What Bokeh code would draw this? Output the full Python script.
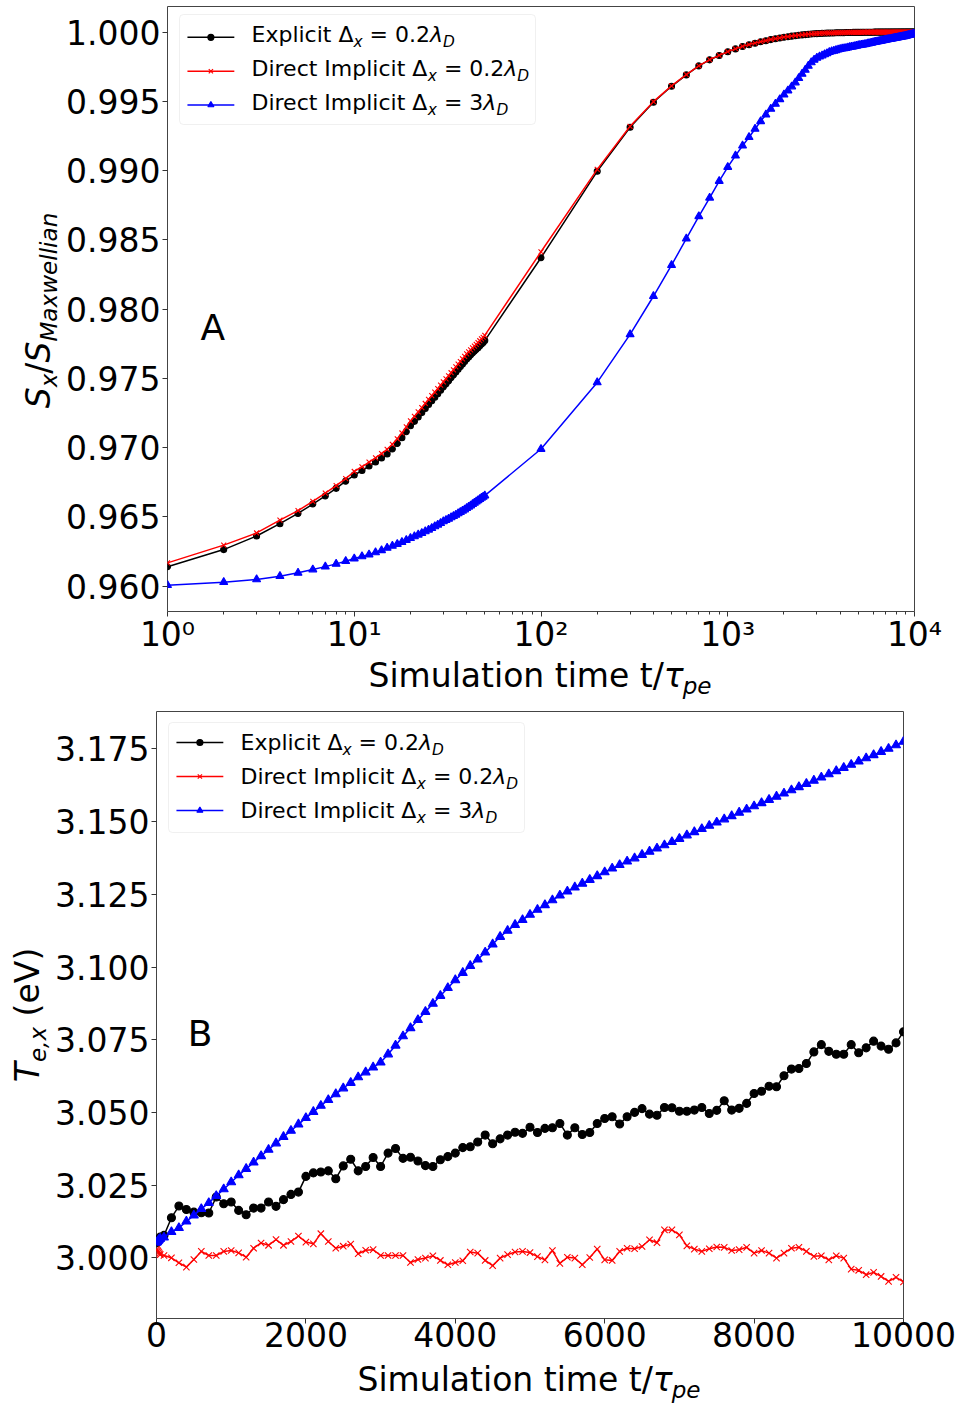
import math
from bokeh.plotting import figure
from bokeh.layouts import column, row
from bokeh.models import (Range1d, FixedTicker, NumeralTickFormatter, CustomJSTickFormatter,
                          Label, BoxAnnotation, LinearScale)
from bokeh.embed import file_html
from bokeh.resources import INLINE

# ---------------- data : panel A (S_x / S_Maxwellian vs time, log x) ----------------
T_A = list(range(1, 51)) + list(range(100, 10001, 100))

EXPLICIT_A = [
    0.96140, 0.96264, 0.96362, 0.96451, 0.96525, 0.96593, 0.96651, 0.96706, 0.96758, 0.96802,
    0.96835, 0.96867, 0.96897, 0.96926, 0.96955, 0.96990, 0.97030, 0.97072, 0.97115, 0.97158,
    0.97190, 0.97222, 0.97253, 0.97283, 0.97312, 0.97338, 0.97364, 0.97389, 0.97414, 0.97438,
    0.97460, 0.97482, 0.97504, 0.97525, 0.97546, 0.97566, 0.97585, 0.97604, 0.97622, 0.97640,
    0.97655, 0.97669, 0.97683, 0.97696, 0.97709, 0.97722, 0.97735, 0.97748, 0.97760, 0.97773,
    0.98371, 0.98995, 0.99313, 0.99494, 0.99609, 0.99691, 0.99756, 0.99800, 0.99831, 0.99858,
    0.99879, 0.99896, 0.99909, 0.99920, 0.99930, 0.99938, 0.99946, 0.99952, 0.99958, 0.99963,
    0.99967, 0.99971, 0.99974, 0.99977, 0.99980, 0.99982, 0.99984, 0.99986, 0.99988, 0.99989,
    0.99990, 0.99991, 0.99992, 0.99993, 0.99993, 0.99994, 0.99994, 0.99995, 0.99995, 0.99996,
    0.99996, 0.99996, 0.99997, 0.99997, 0.99997, 0.99997, 0.99998, 0.99998, 0.99998, 0.99998,
    0.99998, 0.99998, 0.99999, 0.99999, 0.99999, 0.99999, 0.99999, 0.99999, 0.99999, 0.99999,
    1.00000, 1.00000, 1.00000, 1.00000, 1.00000, 1.00000, 1.00000, 1.00000, 1.00000, 1.00000,
    1.00000, 1.00000, 1.00000, 1.00000, 1.00000, 1.00000, 1.00000, 1.00000, 1.00000, 1.00000,
    1.00000, 1.00000, 1.00000, 1.00000, 1.00000, 1.00000, 1.00000, 1.00000, 1.00000, 1.00000,
    1.00000, 1.00000, 1.00000, 1.00000, 1.00000, 1.00000, 1.00000, 1.00000, 1.00000, 1.00000,
]

IMPLICIT_FINE_A = [
    0.96168, 0.96296, 0.96384, 0.96477, 0.96545, 0.96612, 0.96672, 0.96726, 0.96776, 0.96828,
    0.96862, 0.96895, 0.96926, 0.96957, 0.96988, 0.97024, 0.97064, 0.97106, 0.97150, 0.97193,
    0.97226, 0.97258, 0.97289, 0.97319, 0.97348, 0.97375, 0.97401, 0.97426, 0.97451, 0.97475,
    0.97497, 0.97519, 0.97541, 0.97562, 0.97583, 0.97603, 0.97622, 0.97641, 0.97659, 0.97677,
    0.97692, 0.97706, 0.97720, 0.97733, 0.97746, 0.97759, 0.97772, 0.97785, 0.97797, 0.97810,
    0.98414, 0.99009, 0.99320, 0.99498, 0.99612, 0.99693, 0.99757, 0.99801, 0.99832, 0.99859,
    0.99880, 0.99897, 0.99910, 0.99921, 0.99931, 0.99939, 0.99947, 0.99953, 0.99959, 0.99964,
    0.99968, 0.99972, 0.99975, 0.99978, 0.99981, 0.99983, 0.99985, 0.99987, 0.99989, 0.99990,
    0.99991, 0.99992, 0.99993, 0.99994, 0.99994, 0.99995, 0.99995, 0.99996, 0.99996, 0.99997,
    0.99997, 0.99997, 0.99998, 0.99998, 0.99998, 0.99998, 0.99999, 0.99999, 0.99999, 0.99999,
    0.99999, 0.99999, 1.00000, 1.00000, 1.00000, 1.00000, 1.00000, 1.00000, 1.00000, 1.00000,
    1.00000, 1.00000, 1.00000, 1.00000, 1.00000, 1.00000, 1.00000, 1.00000, 1.00000, 1.00000,
    1.00000, 1.00000, 1.00000, 1.00000, 1.00000, 1.00000, 1.00000, 1.00000, 1.00000, 1.00000,
    1.00000, 1.00000, 1.00000, 1.00000, 1.00000, 1.00000, 1.00000, 1.00000, 1.00000, 1.00000,
    1.00000, 1.00000, 1.00000, 1.00000, 1.00000, 1.00000, 1.00000, 1.00000, 1.00000, 1.00000,
]

IMPLICIT_COARSE_A = [
    0.96007, 0.96029, 0.96048, 0.96072, 0.96096, 0.96120, 0.96141, 0.96161, 0.96180, 0.96199,
    0.96214, 0.96228, 0.96243, 0.96259, 0.96276, 0.96290, 0.96304, 0.96318, 0.96333, 0.96347,
    0.96359, 0.96371, 0.96383, 0.96395, 0.96407, 0.96419, 0.96431, 0.96443, 0.96455, 0.96467,
    0.96477, 0.96486, 0.96496, 0.96505, 0.96515, 0.96525, 0.96534, 0.96544, 0.96553, 0.96563,
    0.96573, 0.96582, 0.96592, 0.96601, 0.96611, 0.96620, 0.96628, 0.96637, 0.96645, 0.96654,
    0.96990, 0.97471, 0.97818, 0.98093, 0.98317, 0.98509, 0.98670, 0.98804, 0.98925, 0.99026,
    0.99108, 0.99180, 0.99241, 0.99301, 0.99356, 0.99404, 0.99445, 0.99481, 0.99515, 0.99549,
    0.99578, 0.99607, 0.99636, 0.99667, 0.99698, 0.99727, 0.99756, 0.99781, 0.99800, 0.99814,
    0.99823, 0.99831, 0.99839, 0.99847, 0.99855, 0.99860, 0.99864, 0.99869, 0.99873, 0.99877,
    0.99880, 0.99883, 0.99885, 0.99888, 0.99891, 0.99893, 0.99896, 0.99898, 0.99901, 0.99904,
    0.99906, 0.99908, 0.99910, 0.99912, 0.99914, 0.99916, 0.99918, 0.99920, 0.99923, 0.99925,
    0.99927, 0.99929, 0.99931, 0.99933, 0.99935, 0.99937, 0.99939, 0.99940, 0.99942, 0.99944,
    0.99946, 0.99947, 0.99949, 0.99950, 0.99952, 0.99953, 0.99955, 0.99956, 0.99958, 0.99959,
    0.99960, 0.99962, 0.99963, 0.99965, 0.99966, 0.99967, 0.99969, 0.99970, 0.99972, 0.99973,
    0.99975, 0.99976, 0.99978, 0.99979, 0.99981, 0.99982, 0.99984, 0.99985, 0.99987, 0.99988,
]

# ---------------- data : panel B (T_e,x in eV vs time, linear x) ----------------
T_B = [1, 10, 20, 30, 40, 50] + list(range(100, 10001, 100))

EXPLICIT_B = [
    3.0052, 3.0056, 3.0060, 3.0064, 3.0068, 3.0071,
    3.0077, 3.0138, 3.0178, 3.0166, 3.0157, 3.0155, 3.0154, 3.0209, 3.0186, 3.0192,
    3.0163, 3.0148, 3.0171, 3.0171, 3.0192, 3.0177, 3.0200, 3.0218, 3.0226, 3.0280,
    3.0292, 3.0295, 3.0299, 3.0272, 3.0316, 3.0339, 3.0299, 3.0314, 3.0345, 3.0314,
    3.0360, 3.0376, 3.0342, 3.0346, 3.0333, 3.0317, 3.0314, 3.0337, 3.0348, 3.0360,
    3.0379, 3.0382, 3.0398, 3.0422, 3.0392, 3.0409, 3.0422, 3.0432, 3.0428, 3.0449,
    3.0431, 3.0445, 3.0447, 3.0462, 3.0422, 3.0447, 3.0424, 3.0431, 3.0462, 3.0479,
    3.0485, 3.0460, 3.0485, 3.0500, 3.0513, 3.0494, 3.0490, 3.0517, 3.0516, 3.0504,
    3.0504, 3.0508, 3.0517, 3.0496, 3.0507, 3.0540, 3.0508, 3.0514, 3.0531, 3.0565,
    3.0573, 3.0590, 3.0588, 3.0626, 3.0649, 3.0651, 3.0668, 3.0708, 3.0733, 3.0710,
    3.0700, 3.0700, 3.0733, 3.0705, 3.0722, 3.0745, 3.0728, 3.0717, 3.0739, 3.0777,
]

IMPLICIT_FINE_B = [
    3.0030, 3.0026, 3.0022, 3.0018, 3.0014, 3.0011,
    3.0008, 3.0000, 2.9983, 2.9968, 2.9994, 3.0022, 3.0008, 3.0008, 3.0022, 3.0025,
    3.0017, 3.0002, 3.0033, 3.0051, 3.0043, 3.0063, 3.0043, 3.0056, 3.0075, 3.0054,
    3.0048, 3.0083, 3.0056, 3.0033, 3.0040, 3.0047, 3.0014, 3.0026, 3.0028, 3.0008,
    3.0008, 3.0008, 3.0008, 2.9984, 2.9994, 2.9999, 3.0007, 2.9991, 2.9976, 2.9984,
    2.9990, 3.0020, 3.0016, 2.9991, 2.9973, 2.9999, 3.0011, 3.0020, 3.0022, 3.0018,
    3.0004, 2.9993, 3.0025, 2.9981, 3.0002, 2.9999, 2.9976, 3.0001, 3.0030, 2.9993,
    2.9991, 3.0022, 3.0033, 3.0031, 3.0039, 3.0062, 3.0052, 3.0096, 3.0096, 3.0079,
    3.0041, 3.0030, 3.0022, 3.0031, 3.0037, 3.0036, 3.0025, 3.0028, 3.0036, 3.0016,
    3.0025, 3.0016, 2.9999, 3.0016, 3.0033, 3.0036, 3.0022, 3.0005, 3.0007, 2.9993,
    3.0007, 2.9999, 2.9961, 2.9957, 2.9942, 2.9950, 2.9936, 2.9919, 2.9933, 2.9917,
]

IMPLICIT_COARSE_B = [
    3.0052, 3.0055, 3.0058, 3.0061, 3.0064, 3.0066,
    3.0070, 3.0089, 3.0103, 3.0125, 3.0146, 3.0168, 3.0189, 3.0213, 3.0236, 3.0260,
    3.0284, 3.0306, 3.0328, 3.0350, 3.0372, 3.0394, 3.0416, 3.0437, 3.0459, 3.0481,
    3.0502, 3.0523, 3.0543, 3.0563, 3.0583, 3.0602, 3.0621, 3.0638, 3.0655, 3.0672,
    3.0700, 3.0730, 3.0762, 3.0790, 3.0818, 3.0846, 3.0874, 3.0901, 3.0928, 3.0955,
    3.0980, 3.1004, 3.1026, 3.1050, 3.1078, 3.1104, 3.1125, 3.1145, 3.1162, 3.1180,
    3.1197, 3.1213, 3.1230, 3.1246, 3.1260, 3.1274, 3.1287, 3.1300, 3.1313, 3.1326,
    3.1339, 3.1351, 3.1363, 3.1374, 3.1386, 3.1397, 3.1408, 3.1419, 3.1430, 3.1441,
    3.1453, 3.1464, 3.1475, 3.1486, 3.1497, 3.1508, 3.1519, 3.1531, 3.1542, 3.1553,
    3.1564, 3.1575, 3.1586, 3.1597, 3.1608, 3.1619, 3.1630, 3.1641, 3.1652, 3.1663,
    3.1674, 3.1685, 3.1696, 3.1707, 3.1718, 3.1729, 3.1740, 3.1751, 3.1763, 3.1775,
]

A_YTICKS = [0.960, 0.965, 0.970, 0.975, 0.980, 0.985, 0.990, 0.995, 1.000]
A_XTICKS = [1, 10, 100, 1000, 10000]
A_XMINOR = [m * d for d in (1, 10, 100, 1000) for m in range(2, 10)]
B_YTICKS = [3.000, 3.025, 3.050, 3.075, 3.100, 3.125, 3.150, 3.175]
B_XTICKS = [0, 2000, 4000, 6000, 8000, 10000]

for arr in (EXPLICIT_A, IMPLICIT_FINE_A, IMPLICIT_COARSE_A):
    assert len(arr) == len(T_A), len(arr)
for arr in (EXPLICIT_B, IMPLICIT_FINE_B, IMPLICIT_COARSE_B):
    assert len(arr) == len(T_B), len(arr)

# ---------------- text helpers ----------------
FONT = "DejaVu Sans"
ADV = {' ': 651, '(': 799, ')': 799, ',': 651, '.': 651, '/': 690, '=': 1716,
       '0': 1303, '1': 1303, '2': 1303, '3': 1303,
       'A': 1401, 'B': 1405, 'D': 1577, 'E': 1294, 'I': 604, 'M': 1767, 'S': 1300,
       'T': 1251, 'V': 1401, 'a': 1255, 'c': 1126, 'e': 1260, 'i': 569, 'l': 569,
       'm': 1995, 'n': 1298, 'o': 1253, 'p': 1300, 'r': 842, 't': 803, 'u': 1298,
       'w': 1675, 'x': 1212, '\u0394': 1401, '\u03bb': 1212, '\u03c4': 1165}
MID = 0.35     # em-box middle above the alphabetic baseline
SUB = 0.7      # subscript scale
DROP = 0.20    # subscript drop (in main em)


def tw(s, size):
    return sum(ADV.get(c, 1250) for c in s) / 2048.0 * size


def rich(p, pieces, x, y, size, angle=0.0, anchor="left"):
    """Draw text pieces; (x, y) = baseline start (or centre) in frame px, y upward."""
    sizes = [size * (SUB if k == 'sub' else 1.0) for _, _, k in pieces]
    widths = [tw(t, s) for (t, _, _), s in zip(pieces, sizes)]
    d = -sum(widths) / 2 if anchor == "center" else 0.0
    for (t, it, k), s, w in zip(pieces, sizes, widths):
        lead = len(t) - len(t.lstrip(' '))
        txt = t.strip(' ')
        dd = d + tw(' ' * lead, s)
        up = (-DROP * size if k == 'sub' else 0.0) + MID * s
        if angle == 0:
            lx, ly = x + dd, y + up
        else:
            lx, ly = x - up, y + dd
        p.add_layout(Label(x=lx, y=ly, x_units="screen", y_units="screen", text=txt,
                           angle=angle, text_font=FONT, text_font_size=f"{s:.1f}px",
                           text_font_style="italic" if it else "normal",
                           text_align="left", text_baseline="middle",
                           text_color="black"))
        d += w


LEG_LABELS = [
    [("Explicit \u0394", False, 'n'), ("x", True, 'sub'), (" = 0.2", False, 'n'),
     ("\u03bb", True, 'n'), ("D", True, 'sub')],
    [("Direct Implicit \u0394", False, 'n'), ("x", True, 'sub'), (" = 0.2", False, 'n'),
     ("\u03bb", True, 'n'), ("D", True, 'sub')],
    [("Direct Implicit \u0394", False, 'n'), ("x", True, 'sub'), (" = 3", False, 'n'),
     ("\u03bb", True, 'n'), ("D", True, 'sub')],
]
COLORS = ["black", "red", "blue"]
MARKERS = ["circle", "x", "triangle"]

# legend layout (frame pixels)
LEG_X, LEG_TOP, LEG_W, LEG_H = 12, 11, 356, 110
LEG_ROW0, LEG_DY = 31, 34
LEG_G0, LEG_G1, LEG_TX = 20, 67, 84
LEG_FS = 22


def style(p, xstand, ystand):
    p.grid.visible = False
    p.outline_line_color = "#444444"
    p.outline_line_width = 1
    p.background_fill_color = "white"
    p.border_fill_color = "white"
    for ax in (p.xaxis[0], p.yaxis[0]):
        ax.axis_line_color = None
        ax.axis_label = None
        ax.major_tick_out = 5
        ax.major_tick_in = 0
        ax.major_tick_line_color = "#333333"
        ax.minor_tick_in = 0
        ax.minor_tick_out = 0
        ax.major_label_text_font = FONT
        ax.major_label_text_font_size = "33px"
        ax.major_label_text_color = "black"
    p.xaxis[0].major_label_standoff = xstand
    p.yaxis[0].major_label_standoff = ystand


def add_legend(p, frame_w, frame_h, msize):
    p.extra_x_ranges = {"px": Range1d(0, frame_w)}
    p.extra_x_scales = {"px": LinearScale()}
    p.extra_y_ranges = {"px": Range1d(0, frame_h)}
    p.extra_y_scales = {"px": LinearScale()}
    p.add_layout(BoxAnnotation(left=LEG_X, right=LEG_X + LEG_W, top=frame_h - LEG_TOP,
                               bottom=frame_h - LEG_TOP - LEG_H,
                               left_units="screen", right_units="screen",
                               top_units="screen", bottom_units="screen",
                               fill_color="white", fill_alpha=0.8,
                               line_color="#cccccc", line_width=1, border_radius=4))
    for i, (c, m, lab) in enumerate(zip(COLORS, MARKERS, LEG_LABELS)):
        yc = frame_h - (LEG_ROW0 + i * LEG_DY)
        p.line(x=[LEG_G0, LEG_G1], y=[yc, yc], line_color=c, line_width=1.5,
               x_range_name="px", y_range_name="px", level="overlay")
        p.scatter(x=[(LEG_G0 + LEG_G1) / 2], y=[yc], marker=m, size=msize, line_color=c,
                  fill_color=c, line_width=1.2, x_range_name="px", y_range_name="px",
                  level="overlay")
        rich(p, lab, LEG_TX, yc - 0.365 * LEG_FS, LEG_FS)


def label_fig(w, h):
    f = figure(width=w, height=h, x_range=Range1d(0, w), y_range=Range1d(0, h),
               output_backend="svg", toolbar_location=None, min_border=0,
               x_axis_location=None, y_axis_location=None, frame_align=False)
    f.grid.visible = False
    f.outline_line_color = None
    f.background_fill_color = "white"
    f.border_fill_color = "white"
    return f


XLAB = [("Simulation time t/", False, 'n'), ("\u03c4", True, 'n'), ("pe", True, 'sub')]

# ---------------- panel A ----------------
YLA_W = 63
A_FW, A_FH = 749, 608
A_H = 656
pa = figure(width=957 - YLA_W, height=A_H, x_axis_type="log",
            x_range=Range1d(1, 10000), y_range=Range1d(0.95817, 1.00185),
            output_backend="svg", toolbar_location=None, frame_align=False,
            min_border_left=165 - YLA_W, min_border_right=43, min_border_top=6,
            min_border_bottom=A_H - 6 - A_FH)
style(pa, -2, 2)
pa.xaxis[0].ticker = FixedTicker(ticks=A_XTICKS, minor_ticks=A_XMINOR)
pa.xaxis[0].minor_tick_out = 3
pa.xaxis[0].minor_tick_line_color = "#333333"
pa.xaxis[0].formatter = CustomJSTickFormatter(code="""
const sup = {'0':'\u2070','1':'\u00b9','2':'\u00b2','3':'\u00b3','4':'\u2074','5':'\u2075'};
const e = Math.round(Math.log10(tick));
return '10' + String(e).split('').map(c => sup[c]).join('');
""")
pa.yaxis[0].ticker = FixedTicker(ticks=A_YTICKS)
pa.yaxis[0].formatter = NumeralTickFormatter(format="0.000")

for ys, c, m, sz in ((EXPLICIT_A, "black", "circle", 6), (IMPLICIT_FINE_A, "red", "x", 7),
                     (IMPLICIT_COARSE_A, "blue", "triangle", 8)):
    pa.line(T_A, ys, line_color=c, line_width=1.5)
    pa.scatter(T_A, ys, marker=m, size=sz, line_color=c, fill_color=c, line_width=1.1)

add_legend(pa, A_FW, A_FH, 6)
pa.add_layout(Label(x=1.5, y=0.9787, text="A", text_font=FONT, text_font_size="36px",
                    text_color="black", text_baseline="middle", text_align="left"))

yla = label_fig(YLA_W, 700)
rich(yla, [("S", True, 'n'), ("x", True, 'sub'), ("/", False, 'n'), ("S", True, 'n'),
           ("Maxwellian", True, 'sub')], 50, 700 - 310, 33, angle=math.pi / 2,
     anchor="center")
XLA_H = 700 - A_H
xla = label_fig(957 - YLA_W, XLA_H)
rich(xla, XLAB, (165 + 914) / 2 - YLA_W, 700 - 686.5, 33, anchor="center")

# ---------------- panel B ----------------
YLB_W = 52
B_FW, B_FH = 749, 607
B_H = 660
pb = figure(width=957 - YLB_W, height=B_H,
            x_range=Range1d(0, 10000), y_range=Range1d(2.97913, 3.18786),
            output_backend="svg", toolbar_location=None, frame_align=False,
            min_border_left=154 - YLB_W, min_border_right=54, min_border_top=11,
            min_border_bottom=B_H - 11 - B_FH)
style(pb, -2, 2)
pb.xaxis[0].ticker = FixedTicker(ticks=B_XTICKS)
pb.yaxis[0].ticker = FixedTicker(ticks=B_YTICKS)
pb.yaxis[0].formatter = NumeralTickFormatter(format="0.000")

for ys, c, m, sz in ((EXPLICIT_B, "black", "circle", 8), (IMPLICIT_FINE_B, "red", "x", 9),
                     (IMPLICIT_COARSE_B, "blue", "triangle", 9)):
    pb.line(T_B, ys, line_color=c, line_width=1.5)
    pb.scatter(T_B, ys, marker=m, size=sz, line_color=c, fill_color=c, line_width=1.1)

add_legend(pb, B_FW, B_FH, 6)
pb.add_layout(Label(x=420, y=3.0771, text="B", text_font=FONT, text_font_size="36px",
                    text_color="black", text_baseline="middle", text_align="left"))

ylb = label_fig(YLB_W, 703)
rich(ylb, [("T", True, 'n'), ("e,x", True, 'sub'), (" (eV)", False, 'n')],
     39, 703 - 314.5, 33, angle=math.pi / 2, anchor="center")
XLB_H = 703 - B_H
xlb = label_fig(957 - YLB_W, XLB_H)
rich(xlb, XLAB, (154 + 903) / 2 - YLB_W, 1403 - 1390.5, 33, anchor="center")

layout = column(row(yla, column(pa, xla)), row(ylb, column(pb, xlb)))
open("out.html", "w").write(file_html(layout, INLINE))
